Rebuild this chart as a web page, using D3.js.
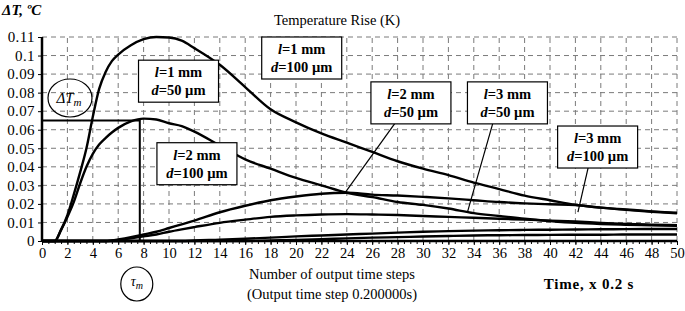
<!DOCTYPE html>
<html>
<head>
<meta charset="utf-8">
<script src="https://cdn.jsdelivr.net/npm/d3@7"></script>
<style>
  body { margin: 0; background: #fff; }
  text { font-family: "Liberation Serif", "Times New Roman", serif; }
</style>
</head>
<body>
<div id="container"></div>
<script>
// time steps (x) shared by every series
var steps = [0, 1, 1.5, 2, 2.5, 3, 3.5, 4, 4.5, 5, 5.5, 6, 7, 8, 9, 10, 11, 12, 14, 16, 18, 20,
             22, 24, 26, 28, 30, 32, 34, 36, 38, 40, 42, 44, 46, 48, 50];

// temperature rise, one array per curve
var l1d50  = [0, 0, 0.006, 0.014, 0.025, 0.037, 0.05, 0.067, 0.082, 0.091, 0.097, 0.1005, 0.1055, 0.1088, 0.11, 0.1097, 0.108, 0.104,
              0.095, 0.083, 0.071, 0.064, 0.058, 0.053, 0.048, 0.043, 0.039, 0.0355, 0.0315, 0.028, 0.0245, 0.022, 0.0195, 0.018, 0.0168, 0.0158, 0.015];
var l1d100 = [0, 0, 0.006, 0.013, 0.021, 0.031, 0.04, 0.047, 0.052, 0.0555, 0.0585, 0.061, 0.0645, 0.066, 0.0655, 0.0635, 0.062, 0.059,
              0.0515, 0.044, 0.039, 0.034, 0.03, 0.026, 0.0237, 0.021, 0.0195, 0.0175, 0.015, 0.0135, 0.012, 0.0108, 0.0098, 0.0092, 0.0088, 0.0085, 0.0082];
var l2d50  = [0, 0, 0, 0, 0, 0, 0, 0, 0, 0, 0.0003, 0.0008, 0.002, 0.0035, 0.005, 0.007, 0.009, 0.011,
              0.0155, 0.019, 0.022, 0.024, 0.0255, 0.026, 0.025, 0.0245, 0.0238, 0.023, 0.022, 0.021, 0.0203, 0.0198, 0.0194, 0.018, 0.017, 0.016, 0.0152];
var l2d100 = [0, 0, 0, 0, 0, 0, 0, 0, 0, 0, 0.0002, 0.0005, 0.0015, 0.0025, 0.0035, 0.005, 0.0063, 0.0075,
              0.0098, 0.0115, 0.013, 0.0138, 0.0143, 0.0145, 0.0143, 0.014, 0.0135, 0.013, 0.0125, 0.012, 0.0115, 0.011, 0.0105, 0.0098, 0.0092, 0.0088, 0.0085];
var l3d50  = [0, 0, 0, 0, 0, 0, 0, 0, 0, 0, 0, 0, 0, 0, 0, 0, 0, 0.0003,
              0.0007, 0.0012, 0.0018, 0.0025, 0.003, 0.0035, 0.004, 0.0045, 0.005, 0.0053, 0.0056, 0.0058, 0.006, 0.0061, 0.0062, 0.0063, 0.0064, 0.0065, 0.0065];
var l3d100 = [0, 0, 0, 0, 0, 0, 0, 0, 0, 0, 0, 0, 0, 0, 0, 0, 0, 0,
              0, 0, 0.0003, 0.0006, 0.001, 0.0014, 0.0018, 0.0021, 0.0024, 0.0027, 0.003, 0.0031, 0.0032, 0.0033, 0.0034, 0.0034, 0.0035, 0.0035, 0.0035];

var series = [l1d50, l1d100, l2d50, l2d100, l3d50, l3d100];

var xTicks = [0, 2, 4, 6, 8, 10, 12, 14, 16, 18, 20, 22, 24, 26, 28, 30, 32, 34, 36, 38, 40, 42, 44, 46, 48, 50];
var yTicks = [0, 0.01, 0.02, 0.03, 0.04, 0.05, 0.06, 0.07, 0.08, 0.09, 0.1, 0.11];

// peak marker of the l=1 mm, d=100 um curve
var peakT = 7.7, peakV = 0.065;

// label boxes: [l text, d text, x, y of top-left in data units]
var labels = [
    ['1 mm', '50 \u00b5m', 7.6, 0.0975],
    ['1 mm', '100 \u00b5m', 17.3, 0.1100],
    ['2 mm', '100 \u00b5m', 9.05, 0.0530],
    ['2 mm', '50 \u00b5m', 25.9, 0.0858],
    ['3 mm', '50 \u00b5m', 33.5, 0.0858],
    ['3 mm', '100 \u00b5m', 40.6, 0.0620]
];
// leader lines [t1, v1, t2, v2]
var leaders = [
    [27.8, 0.0636, 23.9, 0.0264],
    [35.5, 0.0636, 33.5, 0.0156],
    [43.0, 0.0394, 42.2, 0.0156]
];

var width = 685, height = 311;
var svg = d3.select('#container').append('svg')
    .attr('width', width)
    .attr('height', height);

var x = d3.scaleLinear().domain([0, 50]).range([42, 677]);
var y = d3.scaleLinear().domain([0, 0.11]).range([241, 37]);

// dashed grid
svg.append('g').selectAll('line')
    .data(xTicks.filter(function(d) { return d > 0; }))
    .enter().append('line')
    .attr('x1', x).attr('x2', x)
    .attr('y1', y(0)).attr('y2', y(0.11))
    .attr('stroke', '#7a7a7a').attr('stroke-dasharray', '5,4');
svg.append('g').selectAll('line')
    .data(yTicks.filter(function(d) { return d > 0; }))
    .enter().append('line')
    .attr('x1', x(0)).attr('x2', x(50))
    .attr('y1', y).attr('y2', y)
    .attr('stroke', '#7a7a7a').attr('stroke-dasharray', '5,4');

// axes
var yAxis = svg.append('g')
    .attr('transform', 'translate(' + x(0) + ',0)')
    .call(d3.axisLeft(y).tickValues(yTicks).tickSize(4).tickPadding(3)
        .tickFormat(function(d) { return String(d); }));
var xMinor = svg.append('g')
    .attr('transform', 'translate(0,' + y(0) + ')')
    .call(d3.axisBottom(x).tickValues(d3.range(0, 50.01, 0.5)).tickSize(3).tickFormat(''));
var xAxis = svg.append('g')
    .attr('transform', 'translate(0,' + y(0) + ')')
    .call(d3.axisBottom(x).tickValues(xTicks).tickSize(4).tickPadding(3));
[yAxis, xAxis, xMinor].forEach(function(g) {
    g.select('.domain').attr('d', null);
    g.selectAll('text').attr('fill', '#000')
        .style('font-family', '"Liberation Serif", serif');
});
yAxis.selectAll('text').style('font-size', '15px').style('letter-spacing', '0.4px');
xAxis.selectAll('text').style('font-size', '14.5px');
svg.append('line').attr('x1', x(0)).attr('x2', x(0)).attr('y1', y(0.11)).attr('y2', y(0) + 1)
    .attr('stroke', '#000').attr('stroke-width', 2.5);
svg.append('line').attr('x1', x(0)).attr('x2', x(50)).attr('y1', y(0)).attr('y2', y(0))
    .attr('stroke', '#000').attr('stroke-width', 2.5);

// curves
var line = d3.line()
    .x(function(d, i) { return x(steps[i]); })
    .y(function(d) { return y(d); })
    .curve(d3.curveMonotoneX);
svg.append('g').selectAll('path')
    .data(series)
    .enter().append('path')
    .attr('d', line)
    .attr('fill', 'none')
    .attr('stroke', '#000')
    .attr('stroke-width', 2.4);

// delta Tm / tau m marker lines
svg.append('path')
    .attr('d', 'M' + x(0) + ',' + y(peakV) + 'H' + x(peakT) + 'V' + y(0))
    .attr('fill', 'none').attr('stroke', '#000').attr('stroke-width', 2);

// leaders
svg.append('g').selectAll('line')
    .data(leaders)
    .enter().append('line')
    .attr('x1', function(d) { return x(d[0]); })
    .attr('y1', function(d) { return y(d[1]); })
    .attr('x2', function(d) { return x(d[2]); })
    .attr('y2', function(d) { return y(d[3]); })
    .attr('stroke', '#000').attr('stroke-width', 1.2);

// label boxes
var box = svg.append('g').selectAll('g')
    .data(labels)
    .enter().append('g')
    .attr('transform', function(d) { return 'translate(' + x(d[2]) + ',' + y(d[3]) + ')'; });
box.append('rect')
    .attr('width', 80).attr('height', 42)
    .attr('fill', '#fff').attr('stroke', '#000').attr('stroke-width', 1.2);
var t1 = box.append('text').attr('x', 40).attr('y', 17)
    .attr('text-anchor', 'middle').style('font-size', '14.5px').style('font-weight', 'bold');
t1.append('tspan').style('font-style', 'italic').text('l');
t1.append('tspan').text(function(d) { return '=' + d[0]; });
var t2 = box.append('text').attr('x', 40).attr('y', 35)
    .attr('text-anchor', 'middle').style('font-size', '14.5px').style('font-weight', 'bold');
t2.append('tspan').style('font-style', 'italic').text('d');
t2.append('tspan').text(function(d) { return '=' + d[1]; });

// ellipses
svg.append('ellipse').attr('cx', 70).attr('cy', 98).attr('rx', 22).attr('ry', 19)
    .attr('fill', 'none').attr('stroke', '#000').attr('stroke-width', 1.2);
var dt = svg.append('text').attr('x', 69).attr('y', 103).attr('text-anchor', 'middle')
    .style('font-size', '15px').style('font-style', 'italic');
dt.append('tspan').text('\u0394T');
dt.append('tspan').attr('dy', 3).style('font-size', '11px').text('m');
svg.append('ellipse').attr('cx', x(peakT) - 3).attr('cy', 284).attr('rx', 16).attr('ry', 17)
    .attr('fill', 'none').attr('stroke', '#000').attr('stroke-width', 1.2);
var tm = svg.append('text').attr('x', x(peakT) - 3).attr('y', 286).attr('text-anchor', 'middle')
    .style('font-size', '14px').style('font-style', 'italic');
tm.append('tspan').text('\u03c4');
tm.append('tspan').attr('dy', 3).style('font-size', '10px').text('m');

// titles
svg.append('text').attr('x', 2).attr('y', 15)
    .style('font-size', '15px').style('font-weight', 'bold').style('font-style', 'italic')
    .text('\u0394T, \u00baC');
svg.append('text').attr('x', 337).attr('y', 25).attr('text-anchor', 'middle')
    .style('font-size', '14.5px').text('Temperature Rise (K)');
svg.append('text').attr('x', 332).attr('y', 279).attr('text-anchor', 'middle')
    .style('font-size', '14.5px').text('Number of output time steps');
svg.append('text').attr('x', 332).attr('y', 299).attr('text-anchor', 'middle')
    .style('font-size', '14.5px').text('(Output time step 0.200000s)');
svg.append('text').attr('x', 589).attr('y', 289).attr('text-anchor', 'middle')
    .style('font-size', '15px').style('font-weight', 'bold').style('letter-spacing', '0.8px')
    .text('Time, x 0.2 s');
</script>
</body>
</html>
